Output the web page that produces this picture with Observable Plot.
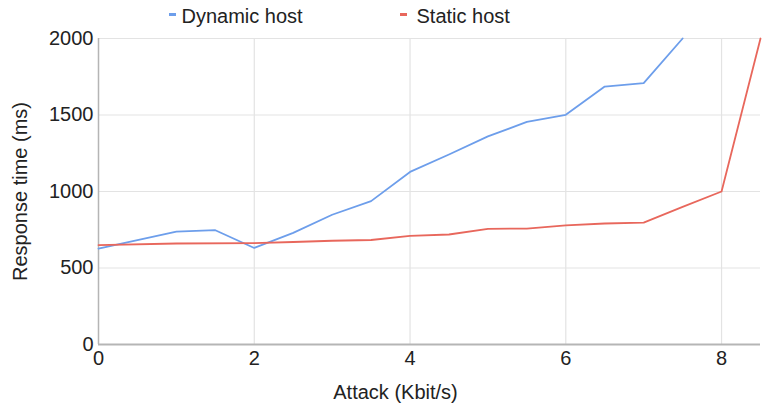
<!DOCTYPE html>
<html>
<head>
<meta charset="utf-8">
<script src="https://cdn.jsdelivr.net/npm/d3@7"></script>
<script src="https://cdn.jsdelivr.net/npm/@observablehq/plot@0.6"></script>
<style>
  html, body { margin: 0; padding: 0; background: #fff; }
  #wrap { position: relative; width: 762px; height: 406px; font-family: "Liberation Sans", Arial, sans-serif; }
  #legend { position: relative; height: 30px; width: 762px; font-size: 20px; color: #222; }
  .item { position: absolute; top: 6px; line-height: 20px; white-space: nowrap; }
  .swatch { position: absolute; width: 7px; height: 3px; top: 13px; }
  svg { display: block; }
</style>
</head>
<body>
<div id="wrap">
  <div id="legend"></div>
  <div id="chart"></div>
</div>
<script>
const seriesNames = ["Dynamic host", "Static host"];
const seriesColors = ["#6d9eeb", "#e8675c"];

const attackDynamic = [0, 1, 1.5, 2, 2.5, 3, 3.5, 4, 4.5, 5, 5.5, 6, 6.5, 7, 7.5];
const dynamicMs     = [627, 738, 747, 631, 730, 848, 937, 1128, 1242, 1360, 1455, 1501, 1686, 1708, 2000];

const attackStatic = [0, 1, 2, 2.5, 3, 3.5, 4, 4.5, 5, 5.5, 6, 6.5, 7, 7.5, 8, 8.5];
const staticMs     = [650, 660, 663, 670, 678, 683, 710, 719, 756, 758, 778, 791, 797, 900, 1000, 2000];

const xTicks = [0, 2, 4, 6, 8];
const yTicks = [0, 500, 1000, 1500, 2000];
const xLabel = "Attack (Kbit/s)";
const yLabel = "Response time (ms)";

const data = [
  ...attackDynamic.map((x, i) => ({series: seriesNames[0], x, y: dynamicMs[i]})),
  ...attackStatic.map((x, i) => ({series: seriesNames[1], x, y: staticMs[i]}))
];

// legend (HTML, above the SVG)
const legend = document.getElementById("legend");
const legendPos = [[169, 181.5], [400, 416.5]];
seriesNames.forEach((name, i) => {
  const sw = document.createElement("div");
  sw.className = "swatch";
  sw.style.left = legendPos[i][0] + "px";
  sw.style.background = seriesColors[i];
  legend.appendChild(sw);
  const t = document.createElement("div");
  t.className = "item";
  t.style.left = legendPos[i][1] + "px";
  t.textContent = name;
  legend.appendChild(t);
});

const chart = Plot.plot({
  width: 762,
  height: 376,
  marginLeft: 98,
  marginRight: 2,
  marginTop: 8,
  marginBottom: 62,
  style: {fontFamily: "Liberation Sans, Arial, sans-serif", fontSize: "20px", color: "#222", background: "#fff", overflow: "visible"},
  x: {domain: [0, 8.5]},
  y: {domain: [0, 2000]},
  color: {domain: seriesNames, range: seriesColors},
  marks: [
    Plot.gridX(xTicks.filter(d => d > 0), {stroke: "#e3e3e3", strokeOpacity: 1, strokeWidth: 1.2}),
    Plot.gridY(yTicks.filter(d => d > 0), {stroke: "#e3e3e3", strokeOpacity: 1, strokeWidth: 1.2}),
    Plot.ruleX([0], {stroke: "#b5b5b5", strokeWidth: 1.5}),
    Plot.ruleY([0], {stroke: "#b5b5b5", strokeWidth: 2}),
    Plot.axisX({ticks: xTicks, tickSize: 0, tickPadding: 6, tickFormat: d3.format("d"), label: null, fill: "#222"}),
    Plot.axisY({ticks: yTicks, tickSize: 0, tickPadding: 5, tickFormat: d3.format("d"), label: null, fill: "#222"}),
    Plot.line(data, {x: "x", y: "y", z: "series", stroke: "series", strokeWidth: 1.8, curve: "linear"}),
    Plot.text([xLabel], {frameAnchor: "bottom", text: d => d, dx: -34, dy: 54, textAnchor: "middle", lineAnchor: "bottom", fill: "#222", fontSize: 20}),
    Plot.text([yLabel], {frameAnchor: "left", text: d => d, rotate: -90, dx: -78, textAnchor: "middle", lineAnchor: "middle", fill: "#222", fontSize: 20})
  ]
});
document.getElementById("chart").appendChild(chart);
</script>
</body>
</html>
